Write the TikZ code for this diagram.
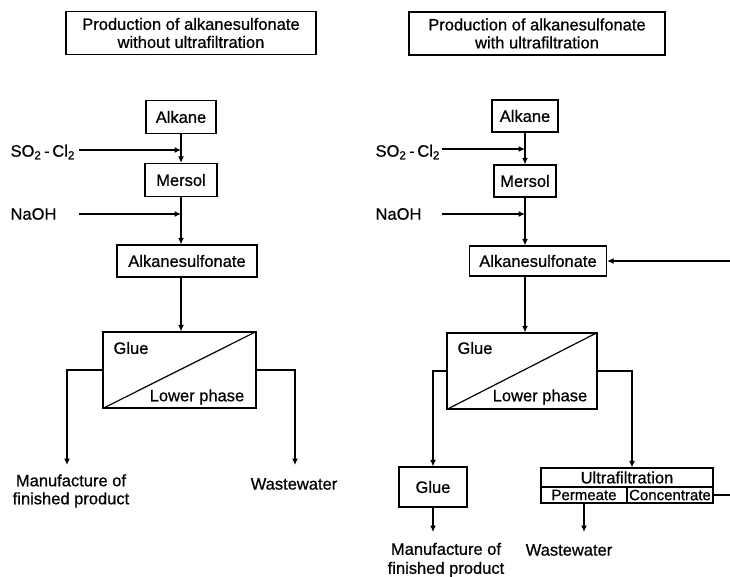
\documentclass[tikz,border=0pt]{standalone}
\usepackage{fontspec}
\setmainfont[FakeBold=0.7]{Liberation Sans}
\usetikzlibrary{arrows.meta}
\begin{document}
\begin{tikzpicture}[x=1pt,y=-1pt,
  line width=1.2pt,
  every node/.style={font=\fontsize{16.5}{18}\selectfont, inner sep=0pt},
  box/.style={draw, rectangle, line width=1.3pt},
  arr/.style={-{Latex[length=6.5pt,width=6pt]}},
  txt/.style={align=center}]
\useasboundingbox (0,0) rectangle (730,577);

% ---------------- left flow sheet ----------------
\node[box, minimum width=250pt, minimum height=43pt, txt] (tL) at (191,33)
  {Production of alkanesulfonate\\without ultrafiltration};

\node[box, minimum width=70pt, minimum height=33pt] (alkL) at (181,117) {Alkane};
\node[box, minimum width=72pt, minimum height=33pt] (merL) at (181,180) {Mersol};
\node[box, minimum width=140pt, minimum height=32pt] (asL) at (187,261) {Alkanesulfonate};
\node[box, minimum width=153pt, minimum height=76pt] (sepL) at (179.5,370) {};
\draw (sepL.south west) -- (sepL.north east);
\node (glueL) at (131,348) {Glue};
\node (lowL) at (197,397) {Lower phase};

\node[anchor=west] (soL) at (10,152) {SO\textsubscript{2}\,-\,Cl\textsubscript{2}};
\node[anchor=west] (naL) at (10,214) {NaOH};
\coordinate (soStartL) at (79,150);
\coordinate (soJoinL) at (181,150);
\coordinate (naStartL) at (79,214);
\coordinate (naJoinL) at (181,214);
\draw[arr] (soStartL) -- (soJoinL);
\draw[arr] (naStartL) -- (naJoinL);

\draw[arr] (alkL.south) -- (merL.north);
\draw[arr] (merL.south) -- (merL.south |- asL.north);
\draw[arr] (merL.south |- asL.south) -- (merL.south |- sepL.north);

\coordinate (mfInL) at (67,465);
\coordinate (wwInL) at (295,465);
\draw[arr] (sepL.west) -| (mfInL);
\draw[arr] (sepL.east) -| (wwInL);
\node[txt] (mfL) at (71,491) {Manufacture of\\finished product};
\node (wwL) at (294,484) {Wastewater};

% ---------------- right flow sheet ----------------
\node[box, minimum width=256pt, minimum height=43pt, txt] (tR) at (537,33.5)
  {Production of alkanesulfonate\\with ultrafiltration};

\node[box, minimum width=66pt, minimum height=32pt] (alkR) at (525,116) {Alkane};
\node[box, minimum width=62pt, minimum height=32pt] (merR) at (525,181) {Mersol};
\node[box, minimum width=137pt, minimum height=30pt] (asR) at (538,261) {Alkanesulfonate};
\node[box, minimum width=150pt, minimum height=76pt] (sepR) at (522,371) {};
\draw (sepR.south west) -- (sepR.north east);
\node (glueR) at (475,348) {Glue};
\node (lowR) at (540,397) {Lower phase};

\node[anchor=west] (soR) at (375,152) {SO\textsubscript{2}\,-\,Cl\textsubscript{2}};
\node[anchor=west] (naR) at (375,214) {NaOH};
\coordinate (soStartR) at (442,149);
\coordinate (soJoinR) at (525,149);
\coordinate (naStartR) at (442,214);
\coordinate (naJoinR) at (525,214);
\draw[arr] (soStartR) -- (soJoinR);
\draw[arr] (naStartR) -- (naJoinR);

\draw[arr] (alkR.south) -- (merR.north);
\draw[arr] (merR.south) -- (merR.south |- asR.north);
\draw[arr] (merR.south |- asR.south) -- (merR.south |- sepR.north);

% glue branch
\node[box, minimum width=68pt, minimum height=40pt] (gR) at (433,487) {Glue};
\draw[arr] (sepR.west) -| (gR.north);
\coordinate (mfInR) at (433,532);
\draw[arr] (gR.south) -- (mfInR);
\node[txt, font=\fontsize{16.5}{19}\selectfont] (mfR) at (446,560) {Manufacture of\\finished product};

% ultrafiltration branch
\node[box, minimum width=172pt, minimum height=19pt] (ufT) at (627,477.5) {Ultrafiltration};
\node[box, minimum width=86pt, minimum height=16pt, font=\fontsize{15}{17}\selectfont] (ufP) at (584,495) {Permeate};
\node[box, minimum width=86pt, minimum height=16pt, font=\fontsize{15}{17}\selectfont] (ufC) at (670,495) {Concentrate};
\draw[arr] (sepR.east) -| ([xshift=5pt]ufT.north);
\coordinate (wwInR) at (584,532);
\draw[arr] (ufP.south) -- (wwInR);
\node (wwR) at (569,550) {Wastewater};

% concentrate returned to the sulfonation stage
\coordinate (recOut) at (730,495);
\coordinate (recIn) at (730,261);
\draw (ufC.east) -- (recOut);
\draw[arr] (recIn) -- (asR.east);
\end{tikzpicture}
\end{document}
